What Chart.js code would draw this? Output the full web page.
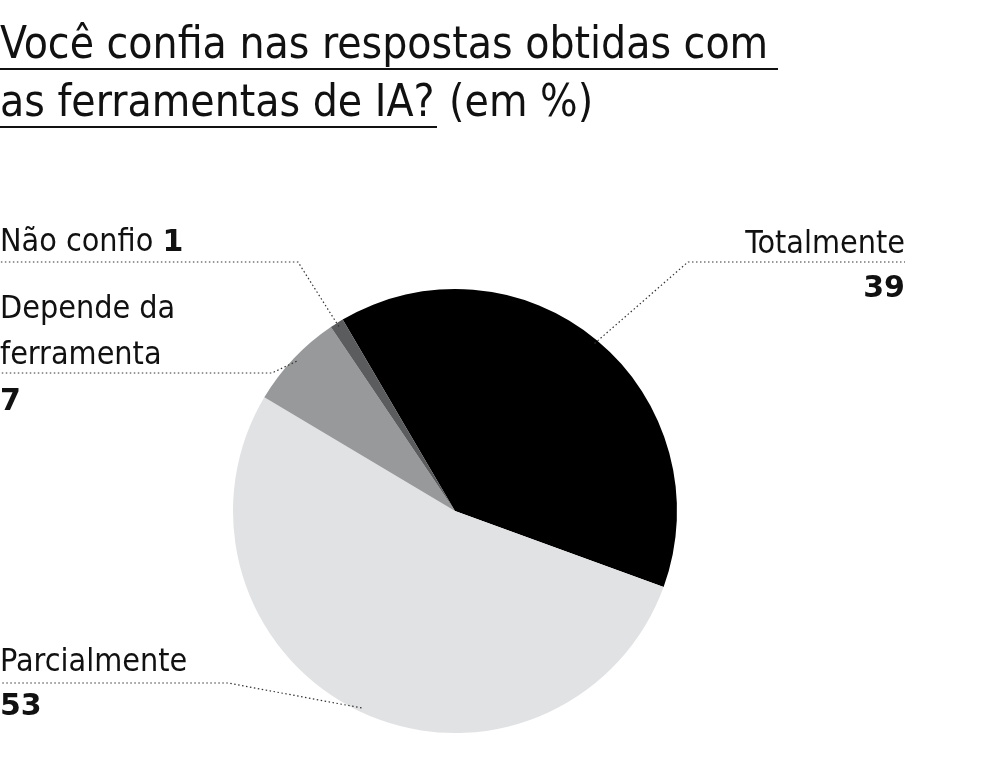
<!DOCTYPE html>
<html lang="pt">
<head>
  <meta charset="UTF-8">
  <title>Confiança nas ferramentas de IA</title>
  <script src="https://cdn.jsdelivr.net/npm/chart.js"></script>
  <style>
    body { margin: 0; background: #fff; font-family: "Liberation Sans Narrow", "DejaVu Sans Condensed", sans-serif; color: #111; }
    #wrap { position: relative; width: 984px; height: 758px; overflow: hidden; }
    canvas { position: absolute; left: 0; top: 0; }
    .title { position: absolute; left: 0; top: 14px; font-size: 44px; line-height: 58px; }
    .title span.u { border-bottom: 2px solid #111; padding-right: 10px; }
    .lbl { position: absolute; font-size: 32px; line-height: 44px; }
    .lbl b { font-family: "DejaVu Sans", sans-serif; font-weight: 900; font-size: 30px; }
  </style>
</head>
<body>
<div id="wrap">
  <canvas id="pie" width="984" height="758"></canvas>
  <div class="title"><span class="u">Você confia nas respostas obtidas com</span><br><span class="u" style="padding-right:2px">as ferramentas de IA?</span> (em %)</div>
  <div class="lbl" style="right:79px;top:220px;text-align:right">Totalmente<br><b>39</b></div>
  <div class="lbl" style="left:0;top:218px">Não confio <b>1</b></div>
  <div class="lbl" style="left:0;top:284px;line-height:46px">Depende da<br>ferramenta<br><b>7</b></div>
  <div class="lbl" style="left:0;top:638px">Parcialmente<br><b>53</b></div>
</div>
<script>
  const categories = ['Totalmente', 'Parcialmente', 'Depende da ferramenta', 'Não confio'];
  const values = [39, 53, 7, 1];
  const colors = ['#000000', '#e1e2e4', '#98999b', '#5b5c5e'];
  // leader lines: [elbow, end] per slice
  const leaders = [
    [[688, 262], [905, 262]],
    [[228, 683], [0, 683]],
    [[272, 373], [0, 373]],
    [[298, 262], [0, 262]]
  ];

  const leaderPlugin = {
    id: 'leaders',
    afterDatasetsDraw(chart) {
      const c = chart.ctx;
      const arcs = chart.getDatasetMeta(0).data;
      c.save();
      c.strokeStyle = '#333';
      c.lineWidth = 1.2;
      c.setLineDash([1.5, 2.5]);
      arcs.forEach((a, i) => {
        const mid = (a.startAngle + a.endAngle) / 2;
        const r = a.outerRadius - 4;
        const x = a.x + Math.cos(mid) * r, y = a.y + Math.sin(mid) * r;
        const [e, f] = leaders[i];
        c.beginPath();
        c.moveTo(x, y);
        c.lineTo(e[0], e[1]);
        c.lineTo(f[0], f[1]);
        c.stroke();
      });
      c.restore();
    }
  };

  new Chart(document.getElementById('pie'), {
    type: 'pie',
    data: { labels: categories, datasets: [{ data: values, backgroundColor: colors, borderWidth: 0 }] },
    options: {
      responsive: false,
      animation: false,
      rotation: -30.4,
      layout: { padding: { left: 233, right: 307, top: 289, bottom: 25 } },
      plugins: { legend: { display: false }, tooltip: { enabled: false } }
    },
    plugins: [leaderPlugin]
  });
</script>
</body>
</html>
